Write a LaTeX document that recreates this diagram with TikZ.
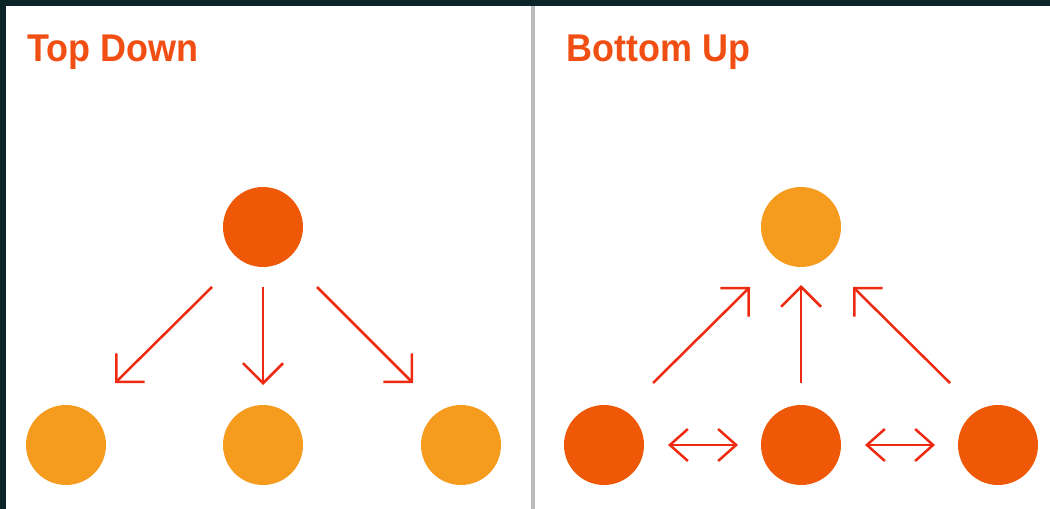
\documentclass[tikz,border=0pt]{standalone}
\usepackage{fontspec}
\setmainfont{Liberation Sans}
\usetikzlibrary{arrows.meta}
\definecolor{frameC}{RGB}{11,36,40}
\definecolor{divC}{RGB}{187,187,187}
\definecolor{titleC}{RGB}{240,78,18}
\definecolor{darkO}{RGB}{238,88,6}
\definecolor{lightO}{RGB}{245,155,30}
\definecolor{arrC}{RGB}{238,42,16}
\tikzset{
  title/.style={anchor=base west, inner sep=0pt, text=titleC, font=\fontsize{22pt}{24pt}\selectfont\bfseries},
  dball/.style={circle, fill=darkO, minimum size=1.6cm, inner sep=0pt},
  lball/.style={circle, fill=lightO, minimum size=1.6cm, inner sep=0pt},
  arr/.style={draw=arrC, line width=0.05cm, -{Straight Barb[length=0.4cm, width=0.8cm, line width=0.05cm]}},
  darr/.style={draw=arrC, line width=0.05cm, {Straight Barb[length=0.36cm, width=0.64cm, line width=0.05cm]}-{Straight Barb[length=0.36cm, width=0.64cm, line width=0.05cm]}}
}
\begin{document}
\begin{tikzpicture}[x=0.02cm, y=-0.02cm]
\useasboundingbox (0,0) rectangle (1050,509);
\fill[white] (0,0) rectangle (1050,509);
\fill[frameC] (0,0) rectangle (1050,6);
\fill[frameC] (0,0) rectangle (6,509);
\fill[divC] (531,6) rectangle (535,509);
% titles
\node[title] (t1) at (27,62) {\scalebox{0.93}[1]{Top Down}};
\node[title] (t2) at (566,62) {\scalebox{0.93}[1]{Bottom Up}};
% top down
\node[dball] (a) at (263,227) {};
\node[lball] (b1) at (66,445) {};
\node[lball] (b2) at (263,445) {};
\node[lball] (b3) at (461,445) {};
\coordinate (a1s) at (212,287);
\coordinate (a1e) at (115,383);
\coordinate (a2s) at (263,287);
\coordinate (a2e) at (263,385);
\coordinate (a3s) at (317,287);
\coordinate (a3e) at (413,383);
\draw[arr] (a1s) -- (a1e);
\draw[arr] (a2s) -- (a2e);
\draw[arr] (a3s) -- (a3e);
% bottom up
\node[lball] (c) at (801,227) {};
\node[dball] (d1) at (604,445) {};
\node[dball] (d2) at (801,445) {};
\node[dball] (d3) at (998,445) {};
\coordinate (c1s) at (653,383);
\coordinate (c1e) at (750,287);
\coordinate (c2s) at (801,383);
\coordinate (c2e) at (801,285);
\coordinate (c3s) at (950,383);
\coordinate (c3e) at (853,287);
\draw[arr] (c1s) -- (c1e);
\draw[arr] (c2s) -- (c2e);
\draw[arr] (c3s) -- (c3e);
\coordinate (h1s) at (668,445);
\coordinate (h1e) at (738,445);
\coordinate (h2s) at (865,445);
\coordinate (h2e) at (935,445);
\draw[darr] (h1s) -- (h1e);
\draw[darr] (h2s) -- (h2e);
\end{tikzpicture}
\end{document}
